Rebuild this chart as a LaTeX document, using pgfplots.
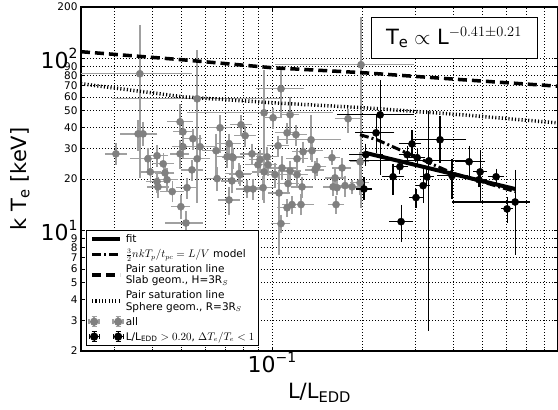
\documentclass[border=0pt]{standalone}
\usepackage{fontspec}
\setmainfont{DejaVu Sans}
\usepackage{pgfplots}
\pgfplotsset{compat=1.18}
\usepackage{pgfplotstable}
\definecolor{graymark}{RGB}{128,128,128}
\definecolor{grayerr}{RGB}{160,160,160}
\newcommand{\bigpow}[1]{{\fontsize{22}{22}\selectfont 10\raisebox{0.45em}{\fontsize{14}{14}\selectfont #1}}}

\pgfplotstableread{
x y exm exp eym eyp
0.0303 28.0 0.059 0.063 0.101 0.113
0.0364 81.8 0.363 0.455 0.741 0.851
0.0359 36.6 0.108 0.122 0.171 0.159
0.0373 36.6 0.08 0.09 0.12 0.13
0.0387 26.2 0.108 0.039 0.10 0.11
0.0415 27.3 0.06 0.06 0.10 0.11
0.0435 24.5 0.06 0.063 0.10 0.11
0.0394 22.0 0.06 0.06 0.10 0.11
0.0441 21.7 0.05 0.05 0.09 0.10
0.0415 19.3 0.06 0.06 0.10 0.10
0.0418 18.0 0.06 0.06 0.10 0.10
0.0466 16.9 0.07 0.07 0.10 0.10
0.0448 19.8 0.06 0.06 0.12 0.12
0.0495 43.0 0.074 0.079 0.125 0.222
0.0506 37.6 0.05 0.05 0.10 0.10
0.0506 30.8 0.06 0.06 0.12 0.12
0.0495 28.0 0.05 0.05 0.15 0.15
0.0546 34.3 0.05 0.05 0.10 0.10
0.0577 30.8 0.10 0.10 0.12 0.12
0.0564 26.2 0.08 0.08 0.12 0.12
0.0542 22.6 0.06 0.06 0.10 0.10
0.0522 17.8 0.06 0.06 0.10 0.10
0.0498 13.8 0.05 0.05 0.12 0.12
0.0518 11.1 0.13 0.113 0.30 0.13
0.0564 58.5 0.466 0.887 0.741 0.851
0.0672 39.7 0.06 0.06 0.255 0.143
0.0652 29.2 0.08 0.087 0.255 0.206
0.0709 26.9 0.06 0.06 0.10 0.10
0.0720 32.1 0.07 0.07 0.10 0.10
0.0736 26.9 0.08 0.08 0.15 0.15
0.0657 20.1 0.07 0.07 0.12 0.12
0.0736 19.5 0.06 0.06 0.12 0.12
0.0777 21.5 0.08 0.08 0.10 0.10
0.0720 15.1 0.06 0.06 0.15 0.15
0.0789 41.3 0.06 0.06 0.10 0.10
0.0814 35.7 0.06 0.06 0.10 0.10
0.0858 28.0 0.07 0.07 0.10 0.10
0.0898 24.2 0.07 0.07 0.10 0.10
0.0941 48.5 0.432 0.656 0.688 0.709
0.1008 45.4 0.05 0.05 0.10 0.10
0.1071 66.9 0.155 0.165 0.294 0.239
0.1148 47.3 0.05 0.05 0.182 0.222
0.1122 37.1 0.07 0.07 0.10 0.10
0.1201 36.2 0.06 0.06 0.10 0.10
0.1348 33.8 0.211 0.229 0.204 0.343
0.1047 31.2 0.06 0.06 0.10 0.10
0.0963 26.9 0.06 0.06 0.10 0.10
0.0912 25.9 0.06 0.06 0.10 0.10
0.0970 24.2 0.05 0.05 0.10 0.10
0.0941 22.0 0.07 0.07 0.12 0.12
0.1211 26.2 0.06 0.06 0.10 0.10
0.1268 28.8 0.06 0.06 0.10 0.10
0.1358 29.2 0.06 0.06 0.10 0.10
0.1079 23.2 0.10 0.10 0.12 0.12
0.1148 22.3 0.06 0.06 0.10 0.10
0.1023 21.2 0.06 0.06 0.12 0.12
0.1211 21.2 0.06 0.06 0.10 0.10
0.1130 18.8 0.06 0.06 0.10 0.10
0.1258 18.0 0.06 0.06 0.10 0.10
0.0826 17.5 0.06 0.06 0.08 0.08
0.0865 17.5 0.06 0.06 0.10 0.10
0.0934 17.8 0.08 0.08 0.12 0.12
0.1055 16.6 0.06 0.06 0.546 0.306
0.1122 13.6 0.05 0.05 0.08 0.08
0.1165 14.2 0.05 0.05 0.08 0.08
0.1248 14.2 0.08 0.08 0.10 0.10
0.1071 11.0 0.05 0.05 0.08 0.08
0.1411 23.6 0.05 0.05 0.08 0.08
0.1390 22.6 0.05 0.05 0.08 0.08
0.1582 26.6 0.04 0.04 0.06 0.06
0.1709 23.2 0.05 0.05 0.10 0.10
0.1619 20.3 0.05 0.05 0.08 0.08
0.1595 18.0 0.05 0.05 0.08 0.08
0.1644 17.8 0.04 0.04 0.06 0.06
0.1748 18.3 0.05 0.05 0.10 0.10
0.1845 18.0 0.04 0.04 0.06 0.06
0.1632 14.2 0.04 0.04 0.08 0.08
0.1789 44.8 0.074 0.079 0.138 0.098
0.1976 92.3 0.470 0.466 0.847 0.826
0.1961 25.2 0.05 0.05 0.10 0.10
0.1961 19.0 0.05 0.05 0.12 0.12
0.0742 26.6 0.06 0.06 0.10 0.10
0.0783 21.2 0.06 0.06 0.10 0.10
}\grayall

\pgfplotstableread{
x y exm exp eym eyp
0.2286 47.2 0.265 0.269 0.534 0.536
0.2216 37.1 0.129 0.124 0.202 0.224
0.205 27.7 0.10 0.115 0.105 0.112
0.202 17.5 0.04 0.04 0.097 0.131
0.2523 20.6 0.061 0.064 0.18 0.146
0.266 23.6 0.04 0.04 0.06 0.07
0.281 27.7 0.04 0.04 0.08 0.08
0.3034 26.6 0.04 0.04 0.08 0.08
0.2917 32.0 0.073 0.047 0.134 0.159
0.3008 15.6 0.03 0.03 0.09 0.083
0.3175 18.3 0.03 0.03 0.175 0.235
0.327 20.6 0.03 0.03 0.07 0.07
0.332 25.5 0.446 0.319 0.893 0.878
0.3615 33.8 0.174 0.192 0.234 0.325
0.2683 11.3 0.066 0.071 0.205 0.204
0.3963 20.9 0.088 0.104 0.234 0.206
0.4514 25.2 0.081 0.104 0.171 0.190
0.491 22.0 0.03 0.03 0.314 0.291
0.487 19.8 0.03 0.03 0.06 0.06
0.555 20.6 0.04 0.04 0.063 0.068
0.642 14.7 0.368 0.095 0.486 0.476
0.6035 13.4 0.02 0.02 0.134 0.127
}\blackpts

\begin{document}
\begin{tikzpicture}
\begin{axis}[
  at={(0pt,0pt)}, anchor=south west,
  scale only axis, width=477pt, height=344pt,
  xmode=log, ymode=log,
  xmin=0.0232, xmax=0.891, ymin=2, ymax=200,
  xtick={0.1}, xticklabels={\bigpow{−1}},
  ytick={10,100}, yticklabels={\bigpow{1},\bigpow{2}},
  minor xtick={0.03,0.04,0.05,0.06,0.07,0.08,0.09,0.2,0.3,0.4,0.5,0.6,0.7,0.8},
  minor ytick={3,4,5,6,7,8,9,20,30,40,50,60,70,80,90},
  extra y ticks={2,3,4,5,6,7,8,9,20,30,40,50,60,70,80,90,200},
  extra y tick labels={2,3,4,5,6,7,8,9,20,30,40,50,60,70,80,90,200},
  extra y tick style={grid=none, tick label style={font=\fontsize{10.5}{10.5}\selectfont}},
  xticklabel style={inner sep=1pt},
  grid=both,
  major grid style={black, line width=0.6pt, dash pattern=on 1pt off 2pt},
  minor grid style={black, line width=0.6pt, dash pattern=on 1pt off 2pt},
  axis line style={line width=1.2pt},
  tick align=inside, major tick length=4pt, minor tick length=2pt,
  tick style={black, line width=0.6pt},
  xlabel={L/L$_{\mathrm{EDD}}$},
  ylabel={k T$_{\mathrm{e}}$ [keV]},
  xlabel style={at={(axis description cs:0.5,-0.122)}, anchor=center, font=\fontsize{21}{21}\selectfont},
  ylabel style={at={(axis description cs:-0.128,0.5)}, anchor=center, font=\fontsize{21}{21}\selectfont},
  legend image code/.code={\draw[#1] (0pt,0pt) -- (28pt,0pt);},
  legend style={at={(rel axis cs:0.0105,0.0145)}, anchor=south west, draw=black, line width=1pt,
    font=\fontsize{10.5}{11.5}\selectfont, cells={anchor=west, align=left}, inner sep=2pt, row sep=1.3pt},
]
% gray "all" points
\addplot[only marks, mark=*, mark size=3.6pt, color=graymark, forget plot,
  error bars/.cd, x dir=both, y dir=both, x explicit relative, y explicit relative,
  error bar style={line width=1.3pt, color=grayerr},
  error mark options={line width=1.3pt, color=grayerr, mark size=3pt}]
  table[x=x, y=y, x error minus=exm, x error plus=exp, y error minus=eym, y error plus=eyp]{\grayall};
% black selected points
\addplot[only marks, mark=*, mark size=3.6pt, color=black, forget plot,
  error bars/.cd, x dir=both, y dir=both, x explicit relative, y explicit relative,
  error bar style={line width=1.1pt, color=black},
  error mark options={line width=1.1pt, color=black, mark size=3pt}]
  table[x=x, y=y, x error minus=exm, x error plus=exp, y error minus=eym, y error plus=eyp]{\blackpts};
% slab pair saturation line
\addplot[black, line width=3.5pt, dash pattern=on 9pt off 5pt, forget plot]
  coordinates {(0.0232,109.9) (0.0506,98.6) (0.1,88.7) (0.2021,82.9) (0.431,75.5) (0.845,69.7) (0.891,69.3)};
% sphere pair saturation line
\addplot[black, line width=3.5pt, dash pattern=on 1.1pt off 2.2pt, forget plot]
  coordinates {(0.0232,71.6) (0.0506,60.1) (0.1,55.5) (0.2021,51.9) (0.431,47.2) (0.871,42.5) (0.891,42.3)};
% model
\addplot[black, line width=3pt, dash pattern=on 9pt off 3pt on 2pt off 3pt, forget plot]
  coordinates {(0.196,36.2) (0.2233,33.8) (0.3963,21.7) (0.642,16.9)};
% fit
\addplot[black, line width=4pt, forget plot]
  coordinates {(0.2037,28.4) (0.642,17.5)};

\addlegendimage{black, line width=4pt}
\addlegendentry{fit}
\addlegendimage{black, line width=3pt, dash pattern=on 9pt off 3pt on 2pt off 3pt}
\addlegendentry{$\frac{3}{2}nkT_p/t_{pc}=L/V$ model}
\addlegendimage{black, line width=3.5pt, dash pattern=on 9pt off 5pt}
\addlegendentry{Pair saturation line\\Slab geom., H=3R$_S$}
\addlegendimage{black, line width=3.5pt, dash pattern=on 1.1pt off 2.2pt}
\addlegendentry{Pair saturation line\\Sphere geom., R=3R$_S$}
\addlegendimage{legend image code/.code={
  \foreach \xx in {2pt,26pt}{
    \begin{scope}[shift={(\xx,0pt)}]
      \draw[grayerr, line width=1.3pt] (-5pt,0pt)--(5pt,0pt) (0pt,-5pt)--(0pt,5pt)
        (-5pt,-2.5pt)--(-5pt,2.5pt) (5pt,-2.5pt)--(5pt,2.5pt)
        (-2.5pt,-5pt)--(2.5pt,-5pt) (-2.5pt,5pt)--(2.5pt,5pt);
      \fill[graymark] (0pt,0pt) circle (3.6pt);
    \end{scope}}}}
\addlegendentry{all}
\addlegendimage{legend image code/.code={
  \foreach \xx in {2pt,26pt}{
    \begin{scope}[shift={(\xx,0pt)}]
      \draw[black, line width=1.1pt] (-5pt,0pt)--(5pt,0pt) (0pt,-5pt)--(0pt,5pt)
        (-5pt,-2.5pt)--(-5pt,2.5pt) (5pt,-2.5pt)--(5pt,2.5pt)
        (-2.5pt,-5pt)--(2.5pt,-5pt) (-2.5pt,5pt)--(2.5pt,5pt);
      \fill[black] (0pt,0pt) circle (3.6pt);
    \end{scope}}}}
\addlegendentry{L/L$_{\mathrm{EDD}}>0.20$, $\Delta T_e/T_e<1$}

\node[draw=black, line width=1pt, fill=white, minimum width=166pt, minimum height=41pt,
  anchor=center, font=\fontsize{21}{21}\selectfont] at (rel axis cs:0.782,0.911)
  {T$_{\mathrm{e}}\propto$ L$^{-0.41\pm0.21}$};
\end{axis}
\pgfresetboundingbox
\path[use as bounding box] (-81pt,-59pt) rectangle (477pt,351pt);
\end{tikzpicture}
\end{document}
